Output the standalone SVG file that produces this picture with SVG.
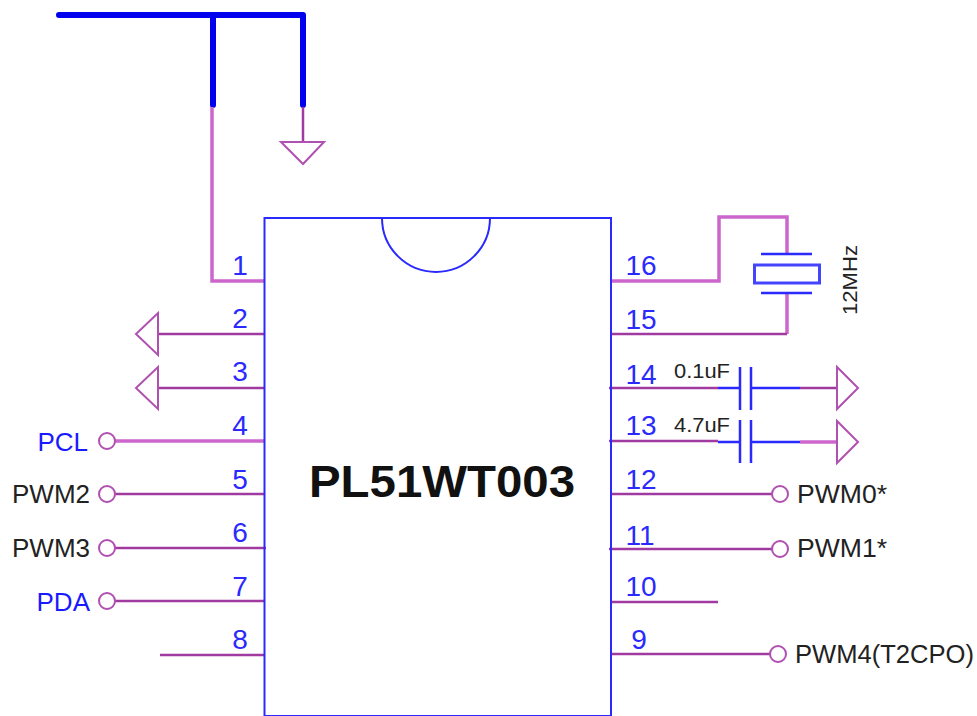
<svg xmlns="http://www.w3.org/2000/svg" width="977" height="716" viewBox="0 0 977 716">
<style>
text{font-family:"Liberation Sans",Arial,sans-serif}
.n{font-size:28px;fill:#2a2aff;text-anchor:middle}
.b{font-size:26px;fill:#1a1aff;text-anchor:end}
.k{font-size:26px;fill:#222}
.c{font-size:20px;fill:#222}
.w{fill:none;stroke:#a03aa0;stroke-width:2.500}
.t{fill:none;stroke:#cc66cc;stroke-width:3.500}
.u{fill:none;stroke:#2a2aff;stroke-width:2.500}
.p{fill:#fff;stroke:#b050b0;stroke-width:2}
.s{fill:none;stroke:#0000ee;stroke-width:6;stroke-linecap:round;stroke-linejoin:round}
</style>
<g id="connectors">
<path class="s" d="M59 15H303V105M213 15V105"/>
<path class="t" d="M212 107V281H264"/>
<path class="w" d="M303 107V142M264 334H158M264 388H158"/>
<path class="t" d="M264 441H115"/>
<path class="w" d="M264 494H115M266 548H115M264 601H115M264 655H160"/>
<path class="t" d="M611 281H719V217H787V253"/>
<path class="t" d="M787 293V334"/>
<path class="w" d="M611 334H787M609 388H718M609 441H718"/>
<path class="u" d="M718 388H740M751 388H800M718 442H740M751 442H800"/>
<path class="w" d="M800 388H837"/>
<path class="t" d="M800 442H837"/>
<path class="w" d="M611 494H772M609 549H772M611 602H718M611 654H770"/>
</g>
<g id="chip">
<rect x="264.500" y="218" width="346.500" height="498" fill="none" stroke="#2a2aff" stroke-width="2"/>
<path d="M382 218A54 54 0 0 0 490 218" fill="none" stroke="#2a2aff" stroke-width="2"/>
<text x="442" y="497" font-size="44" font-weight="bold" fill="#111" text-anchor="middle" textLength="266" lengthAdjust="spacingAndGlyphs">PL51WT003</text>
<text class="n" x="240" y="275">1</text><text class="n" x="240" y="328">2</text><text class="n" x="240" y="381">3</text><text class="n" x="240" y="435">4</text><text class="n" x="240" y="489">5</text><text class="n" x="240" y="542">6</text><text class="n" x="240" y="596">7</text><text class="n" x="240" y="649">8</text>
<text class="n" x="641" y="275">16</text><text class="n" x="641" y="329">15</text><text class="n" x="641" y="384">14</text><text class="n" x="641" y="435">13</text><text class="n" x="641" y="489">12</text><text class="n" x="640" y="545">11</text><text class="n" x="641" y="596">10</text><text class="n" x="639" y="649">9</text>
</g>
<g id="gnd-top"><path class="p" d="M281 142H324L303 164Z"/></g>
<g id="gnd-2"><path class="p" d="M158 313V355L136 334Z"/></g>
<g id="gnd-3"><path class="p" d="M158 367V409L136 388Z"/></g>
<g id="gnd-14"><path class="p" d="M837 367V409L858 388Z"/></g>
<g id="gnd-13"><path class="p" d="M837 421V463L858 442Z"/></g>
<g id="crystal">
<path class="u" d="M761 254H812M761 293H812"/>
<rect x="754.500" y="265" width="65" height="18" fill="none" stroke="#4444ff" stroke-width="3"/>
<text class="c" transform="translate(857 315) rotate(-90)" textLength="70" lengthAdjust="spacingAndGlyphs">12MHz</text>
</g>
<g id="cap-14"><path class="u" d="M740 367V410M751 367V410"/><text class="c" x="674" y="378" textLength="56" lengthAdjust="spacingAndGlyphs">0.1uF</text></g>
<g id="cap-13"><path class="u" d="M740 420V463M751 420V463"/><text class="c" x="674" y="432" textLength="56" lengthAdjust="spacingAndGlyphs">4.7uF</text></g>
<g id="pcl"><circle class="p" cx="107" cy="441" r="8"/><text class="b" x="88" y="451">PCL</text></g>
<g id="pwm2"><circle class="p" cx="107" cy="494" r="8"/><text class="k" x="90" y="503" text-anchor="end">PWM2</text></g>
<g id="pwm3"><circle class="p" cx="107" cy="548" r="8"/><text class="k" x="90" y="557" text-anchor="end">PWM3</text></g>
<g id="pda"><circle class="p" cx="107" cy="601" r="8"/><text class="b" x="90" y="611">PDA</text></g>
<g id="pwm0"><circle class="p" cx="780" cy="494" r="8"/><text class="k" x="797" y="503" textLength="90" lengthAdjust="spacingAndGlyphs">PWM0*</text></g>
<g id="pwm1"><circle class="p" cx="780" cy="549" r="8"/><text class="k" x="797" y="557" textLength="90" lengthAdjust="spacingAndGlyphs">PWM1*</text></g>
<g id="pwm4"><circle class="p" cx="778" cy="654" r="8"/><text class="k" x="795" y="663" textLength="179" lengthAdjust="spacingAndGlyphs">PWM4(T2CPO)</text></g>
</svg>
